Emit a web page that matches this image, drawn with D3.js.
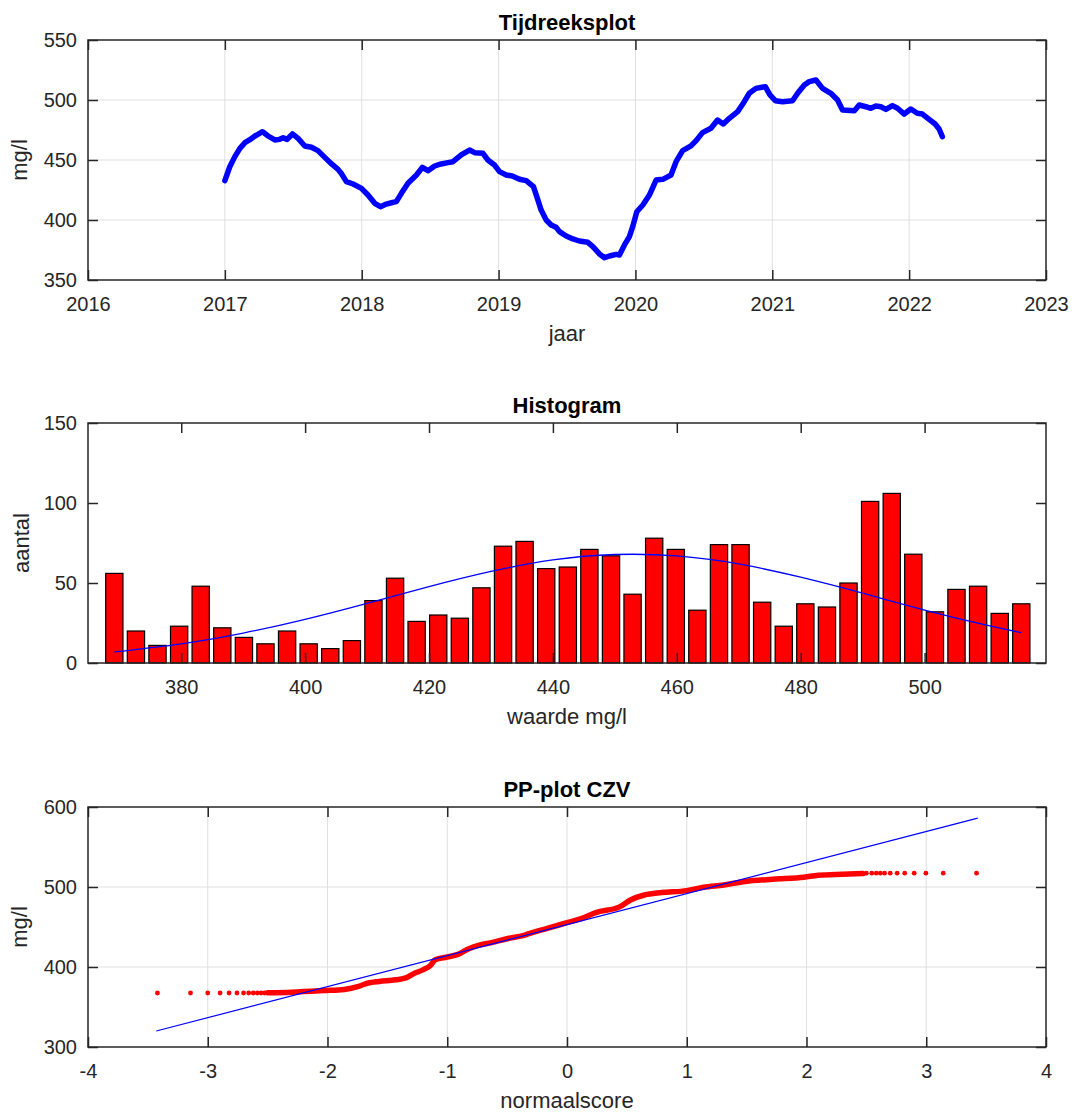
<!DOCTYPE html>
<html>
<head>
<meta charset="utf-8">
<script src="https://cdn.jsdelivr.net/npm/d3@7"></script>
<style>
  body { margin: 0; background: #fff; }
  svg { display: block; font-family: "Liberation Sans", Arial, Helvetica, sans-serif; }
</style>
</head>
<body>
<svg id="chart" width="1075" height="1115"></svg>
<script>
// ---- Tijdreeks: CZV (mg/l) per decimaal jaar ----
const tsYear = [
  2017.000, 2017.036, 2017.073, 2017.110, 2017.146, 2017.180, 2017.220, 2017.275, 2017.316, 2017.365,
  2017.400, 2017.426, 2017.455, 2017.494, 2017.535, 2017.584, 2017.633, 2017.680, 2017.730, 2017.780,
  2017.827, 2017.850, 2017.888, 2017.937, 2017.998, 2018.046, 2018.095, 2018.137, 2018.180, 2018.217,
  2018.253, 2018.290, 2018.338, 2018.400, 2018.443, 2018.484, 2018.533, 2018.580, 2018.630, 2018.667,
  2018.727, 2018.788, 2018.825, 2018.886, 2018.922, 2018.970, 2019.007, 2019.056, 2019.100, 2019.153,
  2019.202, 2019.255, 2019.287, 2019.311, 2019.348, 2019.384, 2019.420, 2019.445, 2019.494, 2019.543,
  2019.590, 2019.652, 2019.689, 2019.737, 2019.774, 2019.810, 2019.859, 2019.883, 2019.920, 2019.956,
  2019.980, 2020.010, 2020.054, 2020.102, 2020.151, 2020.200, 2020.260, 2020.297, 2020.345, 2020.406,
  2020.443, 2020.490, 2020.552, 2020.600, 2020.642, 2020.686, 2020.747, 2020.783, 2020.832, 2020.880,
  2020.949, 2020.983, 2021.022, 2021.075, 2021.148, 2021.185, 2021.234, 2021.270, 2021.319, 2021.367,
  2021.428, 2021.477, 2021.513, 2021.600, 2021.635, 2021.684, 2021.720, 2021.757, 2021.793, 2021.830,
  2021.878, 2021.915, 2021.964, 2022.012, 2022.060, 2022.097, 2022.146, 2022.190, 2022.219, 2022.243
];
const tsValue = [
  432.8, 444.4, 452.8, 459.7, 464.4, 466.7, 470.0, 473.6, 470.0, 466.7,
  467.2, 468.6, 467.2, 471.7, 468.0, 461.7, 460.6, 457.8, 452.2, 446.7,
  442.2, 438.9, 432.0, 430.0, 426.4, 420.8, 413.9, 411.1, 413.3, 414.4,
  415.3, 422.2, 430.6, 437.5, 443.9, 441.1, 445.0, 446.7, 447.8, 448.6,
  454.2, 458.3, 456.1, 455.6, 450.0, 445.8, 440.3, 437.5, 436.7, 434.0,
  432.8, 427.8, 416.7, 408.3, 400.0, 395.8, 393.9, 390.3, 386.7, 384.2,
  382.5, 381.4, 377.8, 371.7, 368.6, 370.0, 371.4, 370.8, 379.2, 386.1,
  394.4, 406.9, 412.5, 420.8, 433.3, 433.9, 437.5, 448.6, 457.8, 461.7,
  466.1, 472.8, 476.4, 483.3, 480.0, 484.7, 490.3, 496.4, 505.6, 509.7,
  511.1, 504.2, 499.4, 498.6, 499.4, 505.6, 512.5, 515.3, 516.7, 509.7,
  505.6, 500.0, 491.7, 491.1, 495.8, 494.4, 493.1, 495.0, 494.4, 492.2,
  495.3, 493.1, 488.3, 492.5, 488.9, 488.3, 483.9, 480.0, 475.8, 469.4
];
const yearTicks = [2016, 2017, 2018, 2019, 2020, 2021, 2022, 2023];
const tsValueTicks = [350, 400, 450, 500, 550];

// ---- Histogram: klassemiddens (mg/l) en aantallen ----
const binCenter = [
  369.20, 372.69, 376.17, 379.66, 383.14, 386.63, 390.12, 393.60, 397.09, 400.57,
  404.06, 407.55, 411.03, 414.52, 418.00, 421.49, 424.98, 428.46, 431.95, 435.43,
  438.92, 442.41, 445.89, 449.38, 452.86, 456.35, 459.84, 463.32, 466.81, 470.29,
  473.78, 477.27, 480.75, 484.24, 487.72, 491.21, 494.70, 498.18, 501.67, 505.15,
  508.64, 512.13, 515.61
];
const binCount = [
  56, 20, 11, 23, 48, 22, 16, 12, 20, 12,
   9, 14, 39, 53, 26, 30, 28, 47, 73, 76,
  59, 60, 71, 67, 43, 78, 71, 33, 74, 74,
  38, 23, 37, 35, 50, 101, 106, 68, 32, 46,
  48, 31, 37
];
const binWidth = 3.486;
// normale verdeling, geschaald naar aantallen
const fitX     = [369.2, 380, 390, 400, 410, 420, 430, 440, 450, 460, 470, 480, 490, 500, 510, 515.6];
const fitCount = [6.9, 12.0, 18.7, 27.3, 37.3, 47.7, 57.2, 64.4, 67.8, 66.9, 61.9, 53.6, 43.6, 33.1, 23.6, 19.0];
const histXTicks = [380, 400, 420, 440, 460, 480, 500];
const histYTicks = [0, 50, 100, 150];

// ---- PP-plot: normaalscore tegen gesorteerde waarden ----
const ppLowScore  = [-3.42, -3.144, -3.0, -2.897, -2.822, -2.756, -2.701, -2.658, -2.62, -2.586, -2.555, -2.526];
const ppLowValue  = [367.5, 367.5, 367.5, 367.5, 367.5, 367.5, 367.5, 367.5, 367.5, 367.5, 367.5, 367.5];
const ppBandScore = [-2.5, -2.3, -2.03, -1.86, -1.74, -1.66, -1.57, -1.43, -1.34, -1.28, -1.2, -1.14, -1.1, -1.0,
                     -0.91, -0.82, -0.74, -0.62, -0.51, -0.36, -0.31, -0.165, 0, 0.125, 0.24, 0.443, 0.53, 0.646,
                     0.79, 1.0, 1.14, 1.31, 1.487, 1.72, 1.98, 2.1, 2.3, 2.47];
const ppBandValue = [367.8, 368.5, 370.5, 372.0, 375.8, 380.0, 382.0, 384.0, 386.7, 391.7, 396.7, 402.0, 409.0, 412.5,
                     415.8, 422.9, 427.0, 430.8, 435.0, 439.6, 442.0, 448.3, 455.4, 460.8, 468.0, 475.5, 483.8, 490.0,
                     493.0, 495.5, 499.7, 502.6, 506.8, 509.7, 512.2, 514.7, 516.0, 516.8];
const ppHighScore = [2.50, 2.545, 2.583, 2.617, 2.652, 2.699, 2.757, 2.82, 2.899, 2.997, 3.142, 3.42];
const ppHighValue = [517.3, 517.3, 517.3, 517.3, 517.3, 517.3, 517.3, 517.3, 517.3, 517.3, 517.3, 517.3];
const refScore = [-3.43, 3.43];
const refValue = [320, 586];
const ppXTicks = [-4, -3, -2, -1, 0, 1, 2, 3, 4];
const ppYTicks = [300, 400, 500, 600];

// ---- opmaak ----
const AXIS = "#262626", GRID = "#dfdfdf";
const left = 88, right = 1046, panelH = 240;
const tops = [40, 423, 807];
const plain = d => String(d);   // hyphen-minus for negative tick labels

const svg = d3.select("#chart");
svg.append("rect").attr("width", 1075).attr("height", 1115).attr("fill", "#fff");

function panel(top, xs, ys, o) {
  const g = svg.append("g");
  const bottom = top + panelH;
  // grid
  if (o.grid) {
    const gg = g.append("g").attr("stroke", GRID).attr("stroke-width", 1);
    o.xTicks.forEach(t => { const x = xs(t); if (x > left + 1 && x < right - 1)
      gg.append("line").attr("x1", x).attr("x2", x).attr("y1", top).attr("y2", bottom); });
    o.yTicks.forEach(t => { const y = ys(t); if (y > top + 1 && y < bottom - 1)
      gg.append("line").attr("x1", left).attr("x2", right).attr("y1", y).attr("y2", y); });
  }
  const data = g.append("g");
  const axes = g.append("g");
  // ticks on all four sides, pointing inward
  const ax = [
    [d3.axisBottom(xs).tickValues(o.xTicks).tickSizeInner(-10).tickSizeOuter(0).tickPadding(17).tickFormat(plain), `translate(0,${bottom})`],
    [d3.axisTop(xs).tickValues(o.xTicks).tickSizeInner(-10).tickSizeOuter(0).tickFormat(""), `translate(0,${top})`],
    [d3.axisLeft(ys).tickValues(o.yTicks).tickSizeInner(-10).tickSizeOuter(0).tickPadding(11).tickFormat(plain), `translate(${left},0)`],
    [d3.axisRight(ys).tickValues(o.yTicks).tickSizeInner(-10).tickSizeOuter(0).tickFormat(""), `translate(${right},0)`]
  ];
  ax.forEach(([a, tr]) => {
    const s = axes.append("g").attr("transform", tr).call(a);
    s.select(".domain").remove();
    s.selectAll(".tick line").attr("stroke", AXIS).attr("stroke-width", 1.5);
    s.selectAll(".tick text").attr("fill", AXIS).attr("font-size", 20)
      .attr("font-family", "Liberation Sans, Arial, Helvetica, sans-serif");
  });
  axes.append("rect").attr("x", left).attr("y", top).attr("width", right - left).attr("height", panelH)
    .attr("fill", "none").attr("stroke", AXIS).attr("stroke-width", 1.5);
  // title and labels
  const cx = (left + right) / 2;
  g.append("text").attr("x", cx).attr("y", top - 10).attr("text-anchor", "middle")
    .attr("font-size", 22).attr("font-weight", "bold").attr("fill", "#000").text(o.title);
  g.append("text").attr("x", cx).attr("y", bottom + 61).attr("text-anchor", "middle")
    .attr("font-size", 22).attr("fill", AXIS).text(o.xLabel);
  g.append("text").attr("transform", `translate(${o.yLabelX},${top + panelH / 2}) rotate(-90)`)
    .attr("text-anchor", "middle").attr("font-size", 22).attr("fill", AXIS).text(o.yLabel);
  return data;
}

// ---- 1: Tijdreeksplot ----
{
  const top = tops[0];
  const xs = d3.scaleLinear().domain([2016, 2023]).range([left, right]);
  const ys = d3.scaleLinear().domain([350, 550]).range([top + panelH, top]);
  const data = panel(top, xs, ys, {
    grid: true, xTicks: yearTicks, yTicks: tsValueTicks,
    title: "Tijdreeksplot", xLabel: "jaar", yLabel: "mg/l", yLabelX: 27
  });
  const line = d3.line().x(i => xs(tsYear[i])).y(i => ys(tsValue[i]));
  data.append("path").attr("d", line(d3.range(tsYear.length)))
    .attr("fill", "none").attr("stroke", "#0000ff").attr("stroke-width", 5.5)
    .attr("stroke-linejoin", "round").attr("stroke-linecap", "round");
}

// ---- 2: Histogram ----
{
  const top = tops[1];
  const xs = d3.scaleLinear().domain([364.95, 519.6]).range([left, right]);
  const ys = d3.scaleLinear().domain([0, 150]).range([top + panelH, top]);
  const data = panel(top, xs, ys, {
    grid: false, xTicks: histXTicks, yTicks: histYTicks,
    title: "Histogram", xLabel: "waarde mg/l", yLabel: "aantal", yLabelX: 29
  });
  const half = binWidth * 0.4;
  data.selectAll("rect.bar").data(binCenter).join("rect").attr("class", "bar")
    .attr("x", (c) => xs(c - half))
    .attr("width", (c) => xs(c + half) - xs(c - half))
    .attr("y", (c, i) => ys(binCount[i]))
    .attr("height", (c, i) => ys(0) - ys(binCount[i]))
    .attr("fill", "#ff0000").attr("stroke", "#000").attr("stroke-width", 1.2);
  const fit = d3.line().curve(d3.curveNatural).x(i => xs(fitX[i])).y(i => ys(fitCount[i]));
  data.append("path").attr("d", fit(d3.range(fitX.length)))
    .attr("fill", "none").attr("stroke", "#0000ff").attr("stroke-width", 1.3);
}

// ---- 3: PP-plot CZV ----
{
  const top = tops[2];
  const xs = d3.scaleLinear().domain([-4, 4]).range([left, right]);
  const ys = d3.scaleLinear().domain([300, 600]).range([top + panelH, top]);
  const data = panel(top, xs, ys, {
    grid: true, xTicks: ppXTicks, yTicks: ppYTicks,
    title: "PP-plot CZV", xLabel: "normaalscore", yLabel: "mg/l", yLabelX: 27
  });
  const band = d3.line().curve(d3.curveMonotoneX).x(i => xs(ppBandScore[i])).y(i => ys(ppBandValue[i]));
  data.append("path").attr("d", band(d3.range(ppBandScore.length)))
    .attr("fill", "none").attr("stroke", "#ff0000").attr("stroke-width", 5.5)
    .attr("stroke-linecap", "round").attr("stroke-linejoin", "round");
  data.selectAll("circle.lo").data(ppLowScore).join("circle").attr("class", "lo")
    .attr("cx", d => xs(d)).attr("cy", (d, i) => ys(ppLowValue[i])).attr("r", 2.4).attr("fill", "#ff0000");
  data.selectAll("circle.hi").data(ppHighScore).join("circle").attr("class", "hi")
    .attr("cx", d => xs(d)).attr("cy", (d, i) => ys(ppHighValue[i])).attr("r", 2.4).attr("fill", "#ff0000");
  data.append("line")
    .attr("x1", xs(refScore[0])).attr("y1", ys(refValue[0]))
    .attr("x2", xs(refScore[1])).attr("y2", ys(refValue[1]))
    .attr("stroke", "#0000ff").attr("stroke-width", 1.2);
}
</script>
</body>
</html>
